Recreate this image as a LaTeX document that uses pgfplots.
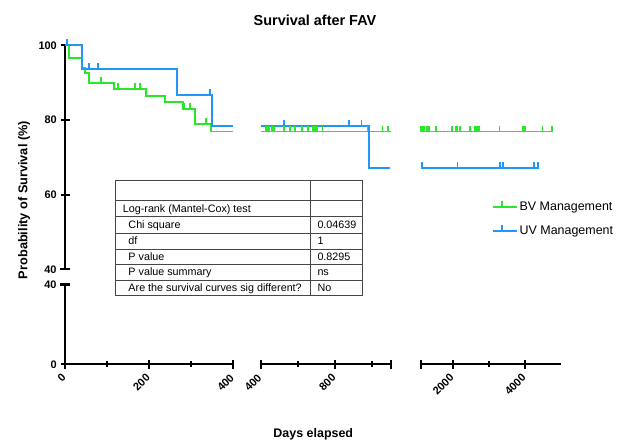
\documentclass[border=0pt]{standalone}
\usepackage{fontspec}
\setmainfont{Liberation Sans}
\usepackage{pgfplots}
\pgfplotsset{compat=1.18}
\definecolor{bvgreen}{RGB}{40,232,40}
\definecolor{uvblue}{RGB}{35,150,250}
\definecolor{tblline}{RGB}{70,70,70}
\pgfdeclareplotmark{cens}{\pgfpathmoveto{\pgfqpoint{0pt}{0pt}}\pgfpathlineto{\pgfqpoint{0pt}{6bp}}\pgfusepathqstroke}
\pgfplotsset{
  brk/.style={scale only axis, clip=false, enlargelimits=false,
    tick align=outside, major tick length=9bp, minor tick length=6bp,
    every tick/.append style={line width=2.2bp, black},
    ticklabel style={font=\fontsize{11}{13}\selectfont\bfseries},
    xticklabel style={rotate=45, anchor=east, inner sep=1.5bp, xshift=-4.2bp, yshift=-4.2bp},
    yticklabel style={inner sep=1.5bp, xshift=-2bp},
    extra x tick style={tick align=center, major tick length=9.5bp},
    extra y tick style={tick align=center, major tick length=9.5bp},
  },
  noarrows/.style={axis line style={-, line width=2.2bp, black},
    every outer x axis line/.append style={-},
    every outer y axis line/.append style={-},
    every inner x axis line/.append style={-},
    every inner y axis line/.append style={-}},
  up/.style={brk, height=224bp, ymin=40, ymax=100, anchor=south west, at={(#1bp,172.7bp)}},
  low/.style={brk, height=79.8bp, ymin=0, ymax=40, anchor=south west, at={(#1bp,77.7bp)}},
  bvline/.style={bvgreen, line width=1.9bp, const plot, mark=none},
  uvline/.style={uvblue, line width=1.9bp, const plot, mark=none},
  bvcens/.style={bvgreen, line width=1.9bp, only marks, mark=cens, forget plot},
  uvcens/.style={uvblue, line width=1.9bp, only marks, mark=cens, forget plot},
}
\begin{document}
\begin{tikzpicture}
\useasboundingbox (0bp,0bp) rectangle (617bp,442bp);

% ---------- upper part, segment 1 ----------
\begin{axis}[up=65, width=168.3bp, xmin=0, xmax=400,
  hide x axis, axis y line=left,
  ytick={60,80,100}, yticklabels={60,80,100},
  extra y ticks={40}, extra y tick labels={40}, noarrows]
\addplot[bvline] coordinates {(0,100)(10,96.5)(40,93.8)(48,92.5)(56,90)(116,88.3)(193,86.4)(237,84.7)(280,82.9)(310,78.9)(348,76.9)(400,76.9)};
\addplot[bvcens] coordinates {(85,90)(125,88.3)(167,88.3)(178,88.3)(284,82.9)(298,82.9)(335,78.9)};
\addplot[uvline] coordinates {(0,100)(40,93.6)(267,86.7)(350,78.5)(400,78.5)};
\addplot[uvcens] coordinates {(5,100)(57,93.6)(78,93.6)(345,86.7)};
\end{axis}

% ---------- upper part, segment 2 ----------
\begin{axis}[up=260.7, width=130bp, xmin=400, xmax=1100, hide axis]
\addplot[bvline] coordinates {(400,76.9)(1100,76.9)};
\addplot[bvcens] coordinates {(428,76.9)(435,76.9)(446,76.9)(459,76.9)(472,76.9)(525,76.9)(558,76.9)(584,76.9)(620,76.9)(653,76.9)(683,76.9)(692,76.9)(701,76.9)(733,76.9)(975,76.9)(1056,76.9)(1086,76.9)};
\addplot[uvline] coordinates {(400,78.5)(984,67.2)(1095,67.2)};
\addplot[uvcens] coordinates {(525,78.5)(875,78.5)(943,78.5)};
\end{axis}

% ---------- upper part, segment 3 (with legend) ----------
\begin{axis}[up=420.7, width=140.3bp, xmin=1100, xmax=5000, hide axis,
  legend style={draw=none, fill=none, at={(0.505,0.225)}, anchor=west,
    font=\fontsize{12.5}{15}\selectfont, inner sep=0pt, row sep=10bp},
  legend cell align=left]
\addplot[bvline, legend image code/.code={\draw[bvgreen, line width=1.9bp] (0bp,0bp) -- (18bp,0bp) (9bp,0bp) -- (9bp,6bp); \path (18bp,0bp) -- (24bp,0bp);}] coordinates {(1100,76.9)(4763,76.9)};
\addlegendentry{BV Management}
\addplot[bvcens] coordinates {(1110,76.9)(1144,76.9)(1199,76.9)(1266,76.9)(1329,76.9)(1514,76.9)(1973,76.9)(2075,76.9)(2111,76.9)(2186,76.9)(2481,76.9)(2600,76.9)(2628,76.9)(2664,76.9)(2719,76.9)(3291,76.9)(3954,76.9)(4000,76.9)(4487,76.9)(4740,76.9)};
\addplot[uvline, legend image code/.code={\draw[uvblue, line width=1.9bp] (0bp,0bp) -- (18bp,0bp) (9bp,0bp) -- (9bp,6bp); \path (18bp,0bp) -- (24bp,0bp);}] coordinates {(1100,67.2)(4396,67.2)};
\addlegendentry{UV Management}
\addplot[uvcens] coordinates {(1144,67.2)(2122,67.2)(3310,67.2)(3382,67.2)(4257,67.2)(4368,67.2)};
\end{axis}

% ---------- lower part, segment 1 ----------
\begin{axis}[low=65, width=168.3bp, xmin=0, xmax=400,
  axis x line=bottom, axis y line=left,
  ytick={0}, yticklabels={0}, extra y ticks={40}, extra y tick labels={40},
  xtick={0,200}, xticklabels={0,200}, minor xtick={100,300},
  extra x ticks={400}, extra x tick labels={400}, noarrows]
\end{axis}

% ---------- lower part, segment 2 ----------
\begin{axis}[low=260.7, width=130bp, xmin=400, xmax=1100,
  axis x line=bottom, hide y axis,
  xtick={800}, xticklabels={800}, minor xtick={600,1000},
  extra x ticks={400,1100}, extra x tick labels={400,}, noarrows]
\end{axis}

% ---------- lower part, segment 3 ----------
\begin{axis}[low=420.7, width=140.3bp, xmin=1100, xmax=5000,
  axis x line=bottom, hide y axis,
  xtick={2000,4000}, xticklabels={2000,4000}, minor xtick={3000},
  extra x ticks={1100}, extra x tick labels={}, noarrows]
\end{axis}

\begin{scope}[x=1bp, y=1bp]
% ---------- statistics table ----------
\begin{scope}[every node/.style={inner sep=0pt, anchor=west, text height=7.7bp, text depth=0pt,
    font=\fontsize{10.8}{13}\selectfont}]
\fill[white] (115,147) rectangle (362.7,262);
\draw[tblline, line width=0.8bp] (115,147) rectangle (362.7,262);
\draw[tblline, line width=0.8bp] (310,147) -- (310,262);
\foreach \yy in {242,225.3,208.7,193,177.7,162}
  \draw[tblline, line width=0.8bp] (115,\yy) -- (362.7,\yy);
\node at (122.7,233.7) {Log-rank (Mantel-Cox) test};
\node at (128.3,217) {Chi square};
\node at (128.3,200.9) {df};
\node at (128.3,185.3) {P value};
\node at (128.3,169.9) {P value summary};
\node at (128.3,154.5) {Are the survival curves sig different?};
\node at (317.3,217) {0.04639};
\node at (317.3,200.9) {1};
\node at (317.3,185.3) {0.8295};
\node at (317.3,169.9) {ns};
\node at (317.3,154.5) {No};
\end{scope}

% ---------- titles ----------
\node[font=\fontsize{14.5}{17}\selectfont\bfseries] at (315,422) {Survival after FAV};
\node[font=\fontsize{12.5}{15}\selectfont\bfseries] at (313.3,8) {Days elapsed};
\node[font=\fontsize{12.8}{15}\selectfont\bfseries, rotate=90] at (24,242) {Probability of Survival (\%)};
\end{scope}
\end{tikzpicture}
\end{document}
